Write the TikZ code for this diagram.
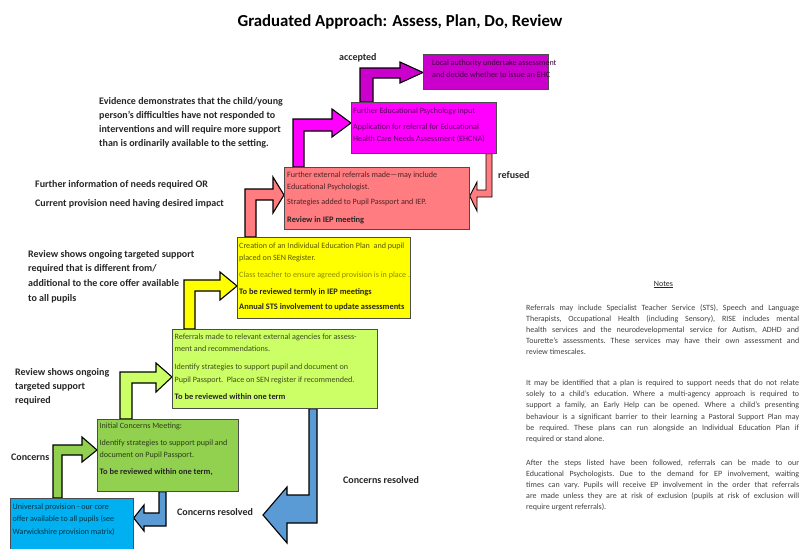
\documentclass[tikz,border=0pt]{standalone}
\usepackage{fontspec}
\setmainfont{Carlito}
\usetikzlibrary{calc}
\definecolor{cblue}{HTML}{00B0F0}
\definecolor{cgreen}{HTML}{92D050}
\definecolor{clime}{HTML}{CCFF66}
\definecolor{cyellow}{HTML}{FFFF00}
\definecolor{cpink}{HTML}{FF7C80}
\definecolor{cmag}{HTML}{FF00FF}
\definecolor{cpurple}{HTML}{CC00CC}
\definecolor{carrowblue}{HTML}{5B9BD5}
\definecolor{labelgray}{HTML}{262626}
\pgfdeclarelayer{bg}
\pgfsetlayers{bg,main}
\newcommand{\fstr}{\rule{0pt}{7pt}}
\newcommand{\bstr}{\rule{0pt}{9pt}}
\newcommand{\bx}[1]{\textcolor{black!85}{\fontsize{8.4}{12.5}\selectfont\textbf{#1}}}
\begin{document}
\begin{tikzpicture}[x=1pt,y=-1pt,
  stepbox/.style={draw=black!70, line width=0.7pt, inner sep=0pt, anchor=north west},
  boxtext/.style={anchor=north west, inner sep=0pt, align=left, font=\fontsize{8.1}{12.5}\selectfont},
  lbl/.style={anchor=north west, inner sep=0pt, align=left, text=labelgray, font=\bfseries\fontsize{10}{14.2}\selectfont},
  blockarrow/.style={draw=black, line width=1.1pt, line join=miter},
  notes/.style={anchor=north west, inner sep=0pt, align=left, text=black!75, font=\frenchspacing\fontsize{8}{11.1}\selectfont}]
\useasboundingbox (0,0) rectangle (801,549);

% title
\node[inner sep=0pt, text=black, font=\bfseries\fontsize{16.8}{19}\selectfont] (title) at (400,21.5) {Graduated Approach: Assess, Plan, Do, Review};

% step boxes
\node[stepbox, fill=cblue, minimum width=123pt, minimum height=56pt] (univ) at (10,498) {};
\node[stepbox, fill=cgreen, minimum width=141pt, minimum height=72pt] (init) at (97,419) {};
\node[stepbox, fill=clime, minimum width=205pt, minimum height=79pt] (ref) at (172,329) {};
\node[stepbox, fill=cyellow, minimum width=173pt, minimum height=81pt] (iep) at (237,237) {};
\node[stepbox, fill=cpink, minimum width=185pt, minimum height=62pt] (ext) at (284,167) {};
\node[stepbox, fill=cmag, minimum width=145pt, minimum height=51pt] (ehcna) at (351,102) {};
\node[stepbox, fill=cpurple, minimum width=125pt, minimum height=35pt] (la) at (423,54) {};
\coordinate (resolved) at (263,515);

% box texts
\node[boxtext, text=cblue!30!black] (univtxt) at (12.5,502) {\fstr Universal provision - our core\\offer available to all pupils (see\\Warwickshire provision matrix)};
\node[boxtext, text=cgreen!30!black] (inittxt) at (99.5,421) {\fstr Initial Concerns Meeting:\\[4.5pt]Identify strategies to support pupil and\\document on Pupil Passport.\\[4.5pt]\bx{To be reviewed within one term,}};
\node[boxtext, text=clime!30!black] (reftxt) at (174.5,332) {\fstr Referrals made to relevant external agencies for assess-\\ment and recommendations.\\[5.5pt]Identify strategies to support pupil and document on\\Pupil Passport.\ \ Place on SEN register if recommended.\\[4.5pt]\bx{To be reviewed within one term}};
\node[boxtext, text=cyellow!35!black] (ieptxt) at (239,241) {\fstr Creation of an Individual Education Plan\ \ and pupil\\placed on SEN Register.\\[4.5pt]\textcolor{cyellow!55!black}{Class teacher to ensure agreed provision is in place .}\\[4.5pt]\bx{To be reviewed termly in IEP meetings}\\[2.5pt]\bx{Annual STS involvement to update assessments}};
\node[boxtext, text=cpink!30!black] (exttxt) at (287,170) {\fstr Further external referrals made---may include\\Educational Psychologist.\\[2.5pt]Strategies added to Pupil Passport and IEP.\\[5.5pt]\bx{Review in IEP meeting}};
\node[boxtext, text=cmag!35!black] (ehcnatxt) at (353,106) {\fstr Further Educational Psychology input\\[3.5pt]Application for referral for Educational\\Health Care Needs Assessment (EHCNA)};
\node[boxtext, text=cpurple!30!black] (latxt) at (432,58) {\fstr Local authority undertake assessment\\and decide whether to issue an EHC};

% labels
\node[lbl] (evid) at (99,95) {\bstr Evidence demonstrates that the child/young\\person’s difficulties have not responded to\\interventions and will require more support\\than is ordinarily available to the setting.};
\node[lbl] (furth) at (35,178) {\bstr Further information of needs required OR\\[4.8pt]Current provision need having desired impact};
\node[lbl, font=\bfseries\fontsize{10}{14.7}\selectfont] (revlong) at (28,248) {\bstr Review shows ongoing targeted support\\required that is different from/\\additional to the core offer available\\to all pupils};
\node[lbl] (revshort) at (15,366) {\bstr Review shows ongoing\\targeted support\\required};
\node[lbl] (conc) at (11,451) {\bstr Concerns};
\node[lbl] (res1) at (177,506) {\bstr Concerns resolved};
\node[lbl] (res2) at (343,474) {\bstr Concerns resolved};
\node[lbl] (acc) at (339,51) {\bstr accepted};
\node[lbl] (ref2) at (498,169) {\bstr refused};

% notes
\node[inner sep=0pt, anchor=north, text=black!85, font=\fontsize{8}{10}\selectfont] (notesh) at (663.5,279) {\fstr\underline{Notes}};
\node[notes] (notestxt) at (526,303) {%
\makebox[273pt][s]{\fstr Referrals may include Specialist Teacher Service (STS), Speech and Language}\\
\makebox[273pt][s]{Therapists, Occupational Health (including Sensory), RISE includes mental}\\
\makebox[273pt][s]{health services and the neurodevelopmental service for Autism, ADHD and}\\
\makebox[273pt][s]{Tourette’s assessments. These services may have their own assessment and}\\
review timescales.\\[20pt]
\makebox[273pt][s]{It may be identified that a plan is required to support needs that do not relate}\\
\makebox[273pt][s]{solely to a child’s education. Where a multi-agency approach is required to}\\
\makebox[273pt][s]{support a family, an Early Help can be opened. Where a child’s presenting}\\
\makebox[273pt][s]{behaviour is a significant barrier to their learning a Pastoral Support Plan may}\\
\makebox[273pt][s]{be required. These plans can run alongside an Individual Education Plan if}\\
required or stand alone.\\[13pt]
\makebox[273pt][s]{After the steps listed have been followed, referrals can be made to our}\\
\makebox[273pt][s]{Educational Psychologists. Due to the demand for EP involvement, waiting}\\
\makebox[273pt][s]{times can vary. Pupils will receive EP involvement in the order that referrals}\\
\makebox[273pt][s]{are made unless they are at risk of exclusion (pupils at risk of exclusion will}\\
require urgent referrals).};

% block arrows
\begin{pgfonlayer}{bg}
\draw[blockarrow, fill=cgreen] (53,0 |- univ.north) -- (53,445) -- (82,445) -- (82,437) -- (init.west |- 0,450) -- (82,462) -- (82,455) -- (62,455) -- (62,0 |- univ.north) -- cycle;
\draw[blockarrow, fill=clime] (120,0 |- init.north) -- (120,372) -- (156,372) -- (156,363) -- (ref.west |- 0,377) -- (156,392) -- (156,383) -- (132,383) -- (132,0 |- init.north) -- cycle;
\draw[blockarrow, fill=cyellow] (184,0 |- ref.north) -- (184,280) -- (220,280) -- (220,272) -- (iep.west |- 0,286) -- (220,300) -- (220,291) -- (195,291) -- (195,0 |- ref.north) -- cycle;
\draw[blockarrow, fill=cpink] (245,0 |- iep.north) -- (245,189) -- (273,189) -- (273,177) -- (ext.west |- 0,195) -- (273,213) -- (273,200) -- (256,200) -- (256,0 |- iep.north) -- cycle;
\draw[blockarrow, fill=cmag] (293,0 |- ext.north) -- (293,119) -- (332,119) -- (332,109) -- (ehcna.west |- 0,123) -- (332,137) -- (332,131) -- (304,131) -- (304,0 |- ext.north) -- cycle;
\draw[blockarrow, fill=cpurple] (360,0 |- ehcna.north) -- (360,68) -- (400,68) -- (400,62) -- (la.west |- 0,72.5) -- (400,83) -- (400,78) -- (373,78) -- (373,0 |- ehcna.north) -- cycle;
\draw[blockarrow, fill=cpink, line width=0.9pt] (486,0 |- ehcna.south) -- (486,190) -- (477,190) -- (477,182) -- (ext.east |- 0,196) -- (477,211) -- (477,197) -- (492,197) -- (492,0 |- ehcna.south) -- cycle;
\draw[blockarrow, fill=carrowblue] (159,0 |- init.south) -- (159,513) -- (144,513) -- (144,505) -- (univ.east |- 0,518) -- (144,531) -- (144,526) -- (166,526) -- (166,0 |- init.south) -- cycle;
\draw[blockarrow, fill=carrowblue] (309,0 |- ref.south) -- (309,495) -- (287,495) -- (287,487) -- (resolved) -- (287,543) -- (287,523) -- (317,523) -- (317,0 |- ref.south) -- cycle;
\end{pgfonlayer}
\end{tikzpicture}
\end{document}
